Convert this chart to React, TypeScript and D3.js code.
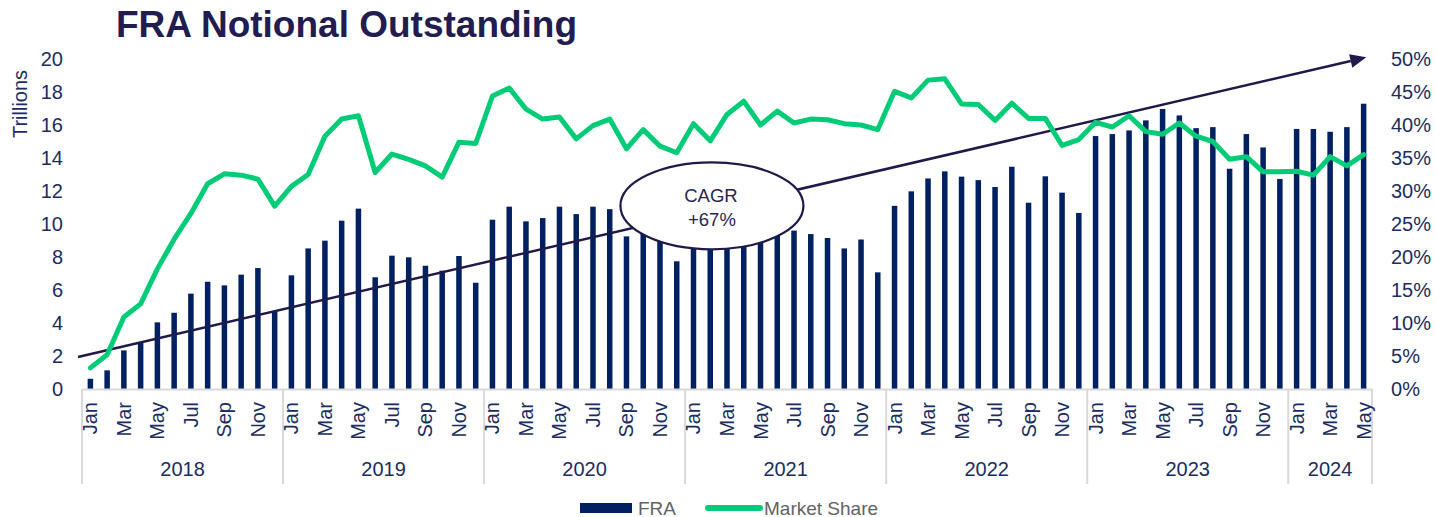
import React, { useEffect } from "react";
import * as d3 from "d3";

// ---------- DATA ----------
const years = ["2018", "2019", "2020", "2021", "2022", "2023", "2024"];
const monthNames = ["Jan", "Feb", "Mar", "Apr", "May", "Jun", "Jul", "Aug", "Sep", "Oct", "Nov", "Dec"];
const monthsPerYear = [12, 12, 12, 12, 12, 12, 5];

// FRA notional outstanding, trillions
const fraValues = [
  0.62, 1.13, 2.34, 2.79, 4.04, 4.62, 5.78, 6.5, 6.28, 6.93, 7.33, 4.7,
  6.89, 8.52, 8.99, 10.2, 10.93, 6.77, 8.08, 7.98, 7.47, 7.17, 8.06, 6.44,
  10.26, 11.05, 10.16, 10.36, 11.05, 10.6, 11.05, 10.9, 9.25, 10.2, 9.4, 7.74,
  9.6, 10.0, 10.3, 9.9, 10.1, 9.8, 9.6, 9.39, 9.15, 8.52, 9.06, 7.07,
  11.1, 11.98, 12.76, 13.19, 12.87, 12.66, 12.24, 13.47, 11.29, 12.89, 11.9, 10.67,
  15.33, 15.45, 15.67, 16.28, 16.97, 16.58, 15.81, 15.87, 13.35, 15.45, 14.64, 12.73,
  15.76, 15.76, 15.59, 15.87, 17.29,
];

// Market share, percent
const marketShare = [
  3.2, 5.2, 10.9, 12.9, 18.2, 22.7, 26.6, 31.1, 32.6, 32.4, 31.8, 27.7,
  30.7, 32.5, 38.3, 40.9, 41.4, 32.8, 35.6, 34.8, 33.8, 32.1, 37.4, 37.2,
  44.4, 45.6, 42.4, 40.9, 41.2, 37.9, 39.9, 40.9, 36.4, 39.3, 36.8, 35.8,
  40.2, 37.6, 41.6, 43.6, 40.0, 42.1, 40.3, 40.9, 40.8, 40.2, 40.0, 39.3,
  45.1, 44.1, 46.8, 47.0, 43.2, 43.1, 40.7, 43.3, 41.0, 41.0, 36.9, 37.8,
  40.4, 39.7, 41.4, 39.0, 38.6, 40.3, 38.3, 37.5, 34.8, 35.2, 32.9, 32.9,
  33.0, 32.4, 35.2, 33.8, 35.5,
];

const leftTicks = [0, 2, 4, 6, 8, 10, 12, 14, 16, 18, 20];
const rightTicks = [0, 5, 10, 15, 20, 25, 30, 35, 40, 45, 50];

// trend arrow in data units (month index, trillions)
const trendStart = { m: -0.24, v: 1.94 };
const trendEnd = { m: 76.66, v: 20.1 };
const cagrLabel = ["CAGR", "+67%"];
const cagrCenter = { m: 37.6, v: 11.1 };

// ---------- BUILD CATEGORIES ----------
const categories: { key: string; month: string; year: string; mi: number }[] = [];
years.forEach((y, yi) => {
  for (let mi = 0; mi < monthsPerYear[yi]; mi++) {
    categories.push({ key: `${y}-${mi}`, month: monthNames[mi], year: y, mi });
  }
});

const W = 1435;
const H = 517;
const X0 = 82;
const X1 = 1372;
const Y0 = 389;
const Y1 = 59;

const FONT = "Arial, 'Liberation Sans', sans-serif";
const NAVY = "#1b2d5f";
const BAR = "#002060";
const GREEN = "#00CC78";
const PURPLE = "#1f1a4a";

export default function App() {
  useEffect(() => {
    document.body.style.margin = "0";
  }, []);

  const x = d3.scaleBand<string>().domain(categories.map((c) => c.key)).range([X0, X1]).padding(0);
  const step = x.step();
  const yL = d3.scaleLinear().domain([0, 20]).range([Y0, Y1]);
  const yR = d3.scaleLinear().domain([0, 50]).range([Y0, Y1]);

  const line = d3
    .line<number>()
    .x((_, i) => (x(categories[i].key) as number) + step / 2)
    .y((d) => yR(d));

  const barW = 5.5;

  // trend arrow
  const tx0 = X0 + step * trendStart.m;
  const ty0 = yL(trendStart.v);
  const tx1 = X0 + step * trendEnd.m;
  const ty1 = yL(trendEnd.v);
  const ang = Math.atan2(ty1 - ty0, tx1 - tx0);
  const headL = 16;
  const headW = 7;
  const bx = tx1 - headL * Math.cos(ang);
  const by = ty1 - headL * Math.sin(ang);
  const px = -Math.sin(ang);
  const py = Math.cos(ang);
  const head = `${tx1},${ty1} ${bx + px * headW},${by + py * headW} ${bx - px * headW},${by - py * headW}`;

  // year boundaries
  const yearStarts: number[] = [];
  let acc = 0;
  monthsPerYear.forEach((n) => {
    yearStarts.push(acc);
    acc += n;
  });

  const cx = X0 + step * cagrCenter.m;
  const cy = yL(cagrCenter.v);

  return (
    <div style={{ position: "absolute", left: 0, top: 0 }}>
      <svg width={W} height={H} style={{ display: "block", fontFamily: FONT }}>
        <rect x={0} y={0} width={W} height={H} fill="#ffffff" />
        <text x={116} y={37} fontSize={37} fontWeight="bold" fill="#221c51">
          FRA Notional Outstanding
        </text>

        {/* left axis */}
        {leftTicks.map((t) => (
          <text key={"l" + t} x={63} y={yL(t)} dy="0.35em" textAnchor="end" fontSize={20} fill={NAVY}>
            {t}
          </text>
        ))}
        <text
          transform={`translate(20,104) rotate(-90)`}
          textAnchor="middle"
          dy="0.35em"
          fontSize={20}
          fill={NAVY}
        >
          Trillions
        </text>

        {/* right axis */}
        {rightTicks.map((t) => (
          <text key={"r" + t} x={1391} y={yR(t)} dy="0.35em" textAnchor="start" fontSize={20} fill={NAVY}>
            {t}%
          </text>
        ))}

        {/* bars */}
        {fraValues.map((v, i) => {
          const cxb = (x(categories[i].key) as number) + step / 2;
          return (
            <rect key={"b" + i} x={cxb - barW / 2} y={yL(v)} width={barW} height={Y0 - yL(v)} fill={BAR} />
          );
        })}

        {/* x axis */}
        <line x1={X0} x2={X1} y1={Y0 + 0.5} y2={Y0 + 0.5} stroke="#d9d9d9" strokeWidth={2} />
        {[...yearStarts, acc].map((s, i) => (
          <line key={"d" + i} x1={X0 + step * s} x2={X0 + step * s} y1={Y0} y2={484} stroke="#d9d9d9" strokeWidth={2} />
        ))}
        {categories.map((c, i) =>
          c.mi % 2 === 0 ? (
            <text
              key={"m" + i}
              transform={`translate(${(x(c.key) as number) + step / 2},402) rotate(-90)`}
              textAnchor="end"
              dy="0.35em"
              fontSize={20}
              fill={NAVY}
            >
              {c.month}
            </text>
          ) : null
        )}
        {years.map((y, yi) => (
          <text
            key={"y" + y}
            x={X0 + step * (yearStarts[yi] + monthsPerYear[yi] / 2)}
            y={476}
            textAnchor="middle"
            fontSize={20}
            fill={NAVY}
          >
            {y}
          </text>
        ))}

        {/* trend arrow */}
        <line x1={tx0} y1={ty0} x2={bx} y2={by} stroke={PURPLE} strokeWidth={2.5} />
        <polygon points={head} fill={PURPLE} />

        {/* CAGR ellipse */}
        <ellipse cx={cx} cy={cy} rx={91.5} ry={43.5} fill="#ffffff" stroke={PURPLE} strokeWidth={2.2} />
        <text x={cx - 1} y={cy - 3.5} textAnchor="middle" fontSize={18.5} fill="#2a2550">
          {cagrLabel[0]}
        </text>
        <text x={cx} y={cy + 20.5} textAnchor="middle" fontSize={18.5} fill="#2a2550">
          {cagrLabel[1]}
        </text>

        {/* market share line */}
        <path d={line(marketShare) || ""} fill="none" stroke={GREEN} strokeWidth={5} strokeLinejoin="round" strokeLinecap="round" />

        {/* legend */}
        <rect x={580} y={503} width={52} height={10} fill={BAR} />
        <text x={638} y={514.5} fontSize={19} fill="#636363">
          FRA
        </text>
        <line x1={708} x2={760} y1={508} y2={508} stroke={GREEN} strokeWidth={6} strokeLinecap="round" />
        <text x={764} y={514.5} fontSize={19} fill="#636363">
          Market Share
        </text>
      </svg>
    </div>
  );
}
